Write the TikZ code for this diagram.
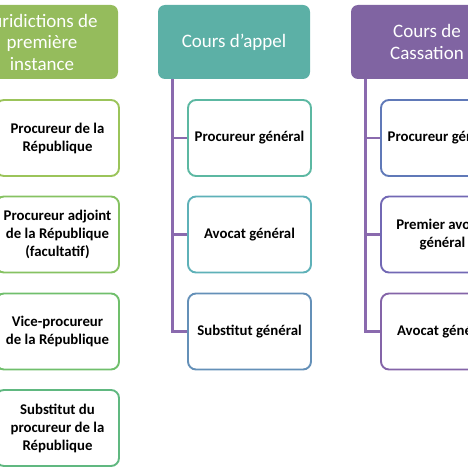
\documentclass[tikz,border=0pt]{standalone}
\usepackage{fontspec}
\setmainfont{Carlito}
\definecolor{hgreen}{HTML}{95BC5C}
\definecolor{hteal}{HTML}{5CB0A6}
\definecolor{hpurple}{HTML}{8064A2}
\definecolor{cA}{HTML}{9BC45A}
\definecolor{cB}{HTML}{86C262}
\definecolor{cC}{HTML}{70BF6C}
\definecolor{cD}{HTML}{60B880}
\definecolor{cE}{HTML}{5CB8A2}
\definecolor{cF}{HTML}{5EB1B8}
\definecolor{cG}{HTML}{6490B8}
\definecolor{cH}{HTML}{6079B8}
\definecolor{cI}{HTML}{7268B4}
\definecolor{cJ}{HTML}{8464A8}
\definecolor{lnk}{HTML}{8A6AAE}
\newcommand\nohyph{\hyphenpenalty=10000\relax}
\tikzset{
  hdr/.style={rounded corners=7pt, minimum width=152pt, minimum height=74pt, align=center, text=white, font=\fontsize{19}{21.5}\selectfont\nohyph, inner sep=0pt},
  kid/.style={draw=#1, fill=white, line width=1.9pt, rounded corners=8pt, minimum width=123pt, minimum height=76pt, align=center, font=\bfseries\fontsize{14.8}{18}\selectfont\nohyph, inner sep=0pt},
  lnkline/.style={draw=lnk, line width=2.2pt}
}
\begin{document}
\begin{tikzpicture}[x=1pt,y=-1pt]
\useasboundingbox (0,0) rectangle (468,468);
\clip (0,0) rectangle (468,468);
% headers
\node[hdr, fill=hgreen] (h1) at (42,42) {Juridictions de\\première\\instance};
\node[hdr, fill=hteal] (h2) at (234,42) {Cours d’appel};
\node[hdr, fill=hpurple] (h3) at (427,42) {Cours de\\Cassation};
% connectors
\coordinate (bt) at ([xshift=14.7pt]h2.south west);
\coordinate (ct) at ([xshift=14.7pt]h3.south west);
\coordinate (at) at ([xshift=14.7pt]h1.south west);
% left column
\node[kid=cA] (a1) at (57.5,138) {Procureur de la\\République};
\node[kid=cB] (a2) at (57.5,234.5) {Procureur adjoint\\de la République\\(facultatif)};
\node[kid=cC] (a3) at (57.5,331.5) {Vice-procureur\\de la République};
\node[kid=cD] (a4) at (57.5,428) {Substitut du\\procureur de la\\République};
% middle column
\node[kid=cE] (b1) at (249.5,138) {Procureur général};
\node[kid=cF] (b2) at (249.5,234.5) {Avocat général};
\node[kid=cG] (b3) at (249.5,331.5) {Substitut général};
% right column
\node[kid=cH] (c1) at (442.5,138) {Procureur général};
\node[kid=cI] (c2) at (442.5,234.5) {Premier avocat\\général};
\node[kid=cJ] (c3) at (442.5,331.5) {Avocat général};
\draw[lnkline] (bt) |- (b1.west);
\draw[lnkline] (bt) |- (b2.west);
\draw[lnkline] (bt) |- (b3.west);
\draw[lnkline] (ct) |- (c1.west);
\draw[lnkline] (ct) |- (c2.west);
\draw[lnkline] (ct) |- (c3.west);
\draw[lnkline] (at) |- (a1.west);
\draw[lnkline] (at) |- (a2.west);
\draw[lnkline] (at) |- (a3.west);
\draw[lnkline] (at) |- (a4.west);
\end{tikzpicture}
\end{document}
